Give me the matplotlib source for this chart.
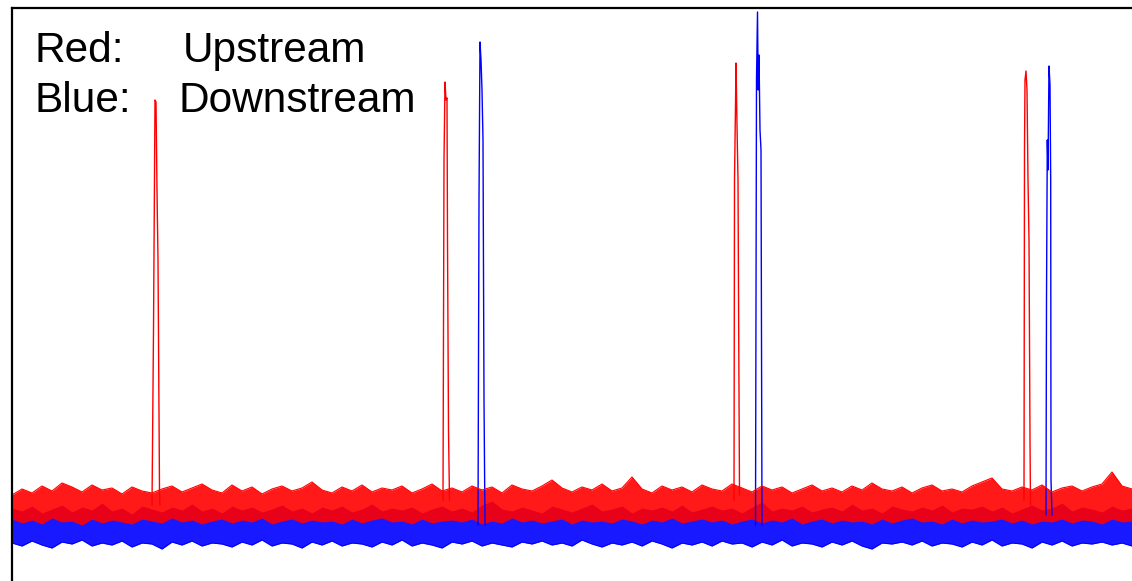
import numpy as np
import matplotlib.pyplot as plt

plt.rcParams['font.family'] = ['Liberation Sans', 'DejaVu Sans']

# baseline noise band, sampled every 10 samples (0 .. 1120)
t_band = np.arange(0, 1121, 10)

red_hi = [86, 92, 88, 95, 90, 98, 94, 89, 96, 91,
          93, 87, 94, 90, 88, 92, 95, 89, 93, 97,
          91, 88, 96, 90, 94, 87, 92, 95, 90, 93,
          99, 91, 88, 94, 90, 96, 89, 93, 91, 95,
          88, 92, 97, 90, 93, 89, 95, 91, 94, 88,
          96, 92, 90, 95, 101, 93, 89, 94, 91, 97,
          90, 93, 104, 92, 88, 95, 91, 94, 89, 96,
          92, 90, 97, 93, 89, 95, 91, 94, 88, 92,
          96, 90, 93, 89, 95, 91, 98, 92, 90, 94,
          88, 93, 96, 90, 92, 89, 95, 99, 103, 92,
          90, 94, 91, 96, 89, 93, 95, 90, 94, 97,
          109, 95, 92]
red_lo = [62, 58, 61, 57, 63, 59, 60, 56, 62, 58,
          61, 59, 57, 62, 60, 58, 63, 59, 61, 57,
          60, 62, 58, 61, 59, 63, 57, 60, 62, 58,
          61, 59, 60, 57, 62, 58, 61, 63, 59, 60,
          57, 62, 58, 60, 61, 59, 62, 57, 60, 58,
          63, 59, 61, 58, 60, 62, 57, 61, 59, 60,
          58, 62, 60, 57, 61, 59, 63, 58, 60, 62,
          59, 61, 57, 60, 62, 58, 61, 59, 63, 57,
          60, 62, 58, 61, 59, 60, 57, 62, 58, 61,
          63, 59, 60, 57, 62, 58, 61, 59, 60, 62,
          58, 61, 57, 60, 59, 62, 58, 61, 60, 57,
          62, 59, 60]
blue_hi = [73, 70, 75, 68, 72, 76, 69, 74, 71, 78,
           70, 73, 67, 75, 72, 69, 74, 71, 77, 70,
           73, 68, 75, 71, 74, 69, 72, 76, 70, 73,
           68, 74, 71, 75, 69, 72, 77, 70, 73, 71,
           74, 68, 72, 75, 70, 73, 69, 76, 80, 72,
           70, 74, 71, 68, 75, 72, 69, 73, 77, 70,
           72, 75, 68, 73, 71, 74, 70, 76, 69, 72,
           75, 71, 73, 68, 74, 79, 70, 73, 71, 75,
           69, 72, 74, 70, 77, 71, 73, 68, 75, 72,
           70, 74, 71, 76, 69, 73, 72, 75, 70, 74,
           68, 72, 76, 71, 73, 78, 70, 74, 72, 69,
           75, 71, 73]
blue_lo = [38, 35, 40, 36, 33, 39, 37, 41, 35, 38,
           36, 40, 34, 38, 37, 32, 39, 36, 40, 35,
           38, 37, 34, 39, 36, 41, 35, 38, 37, 33,
           39, 36, 40, 35, 38, 37, 34, 39, 36, 41,
           35, 38, 36, 33, 39, 37, 40, 35, 38, 36,
           34, 39, 37, 40, 36, 38, 35, 41, 37, 34,
           38, 36, 39, 35, 40, 37, 33, 38, 36, 39,
           35, 40, 37, 38, 34, 39, 36, 41, 35, 38,
           37, 34, 39, 36, 40, 35, 32, 38, 37, 39,
           36, 40, 35, 38, 37, 34, 39, 36, 41, 35,
           38, 37, 33, 39, 36, 40, 35, 38, 37, 39,
           36, 38, 35]

# spikes (time, amplitude)
red_peaks = [
    ([140, 141.5, 143, 144, 145, 146, 147.5, 148],
     [76, 251, 481, 479, 391, 321, 91, 76]),
    ([431, 432, 433, 434, 435, 435.5, 436.5, 437.5],
     [81, 421, 499, 481, 483, 341, 151, 81]),
    ([722, 722.5, 723.5, 724, 725, 726, 726.5, 727.5],
     [81, 401, 476, 518, 456, 401, 291, 86]),
    ([1012, 1012.5, 1013, 1014, 1015, 1016, 1017, 1018, 1018.5],
     [81, 431, 501, 510, 491, 401, 341, 141, 76]),
]
blue_peaks = [
    ([466, 467, 468, 469, 470, 471, 472, 473],
     [56, 381, 539, 521, 491, 441, 181, 56]),
    ([743.5, 744.5, 745.5, 746.2, 747, 748, 749, 750],
     [56, 501, 569, 491, 526, 451, 431, 56]),
    ([1034, 1034.5, 1035.3, 1036, 1037, 1038, 1038.7, 1039, 1040],
     [66, 281, 441, 411, 515, 496, 401, 101, 66]),
]

fig = plt.figure(figsize=(11.32, 5.81), dpi=100)
ax = fig.add_axes([12 / 1132, 0, 1 - 12 / 1132, 573 / 581])

# blue (downstream)
ax.fill_between(t_band, blue_lo, blue_hi, color='#0000ff', lw=0, alpha=0.9)
ax.plot(t_band, blue_lo, color='#0000ff', lw=0.8)
for tx, ty in blue_peaks:
    ax.plot(tx, ty, color='#0000ff', lw=1.0)

# red (upstream)
ax.fill_between(t_band, red_lo, red_hi, color='#ff0000', lw=0, alpha=0.9)
ax.plot(t_band, red_hi, color='#ff0000', lw=0.8)
for tx, ty in red_peaks:
    ax.plot(tx, ty, color='#ff0000', lw=1.0)

ax.set_xlim(0, 1120)
ax.set_ylim(0, 573)
ax.set_xticks([])
ax.set_yticks([])
ax.spines['right'].set_visible(False)
ax.spines['bottom'].set_visible(False)
ax.spines['left'].set_linewidth(1.6)
ax.spines['top'].set_linewidth(1.6)

fs = 30.5
fig.text(35 / 1132, 1 - 62 / 581, 'Red:', fontsize=fs, va='baseline')
fig.text(183 / 1132, 1 - 62 / 581, 'Upstream', fontsize=fs, va='baseline')
fig.text(35 / 1132, 1 - 112 / 581, 'Blue:', fontsize=fs, va='baseline')
fig.text(178 / 1132, 1 - 112 / 581, 'Downstream', fontsize=fs, va='baseline')

fig.savefig('out.png', dpi=100)
